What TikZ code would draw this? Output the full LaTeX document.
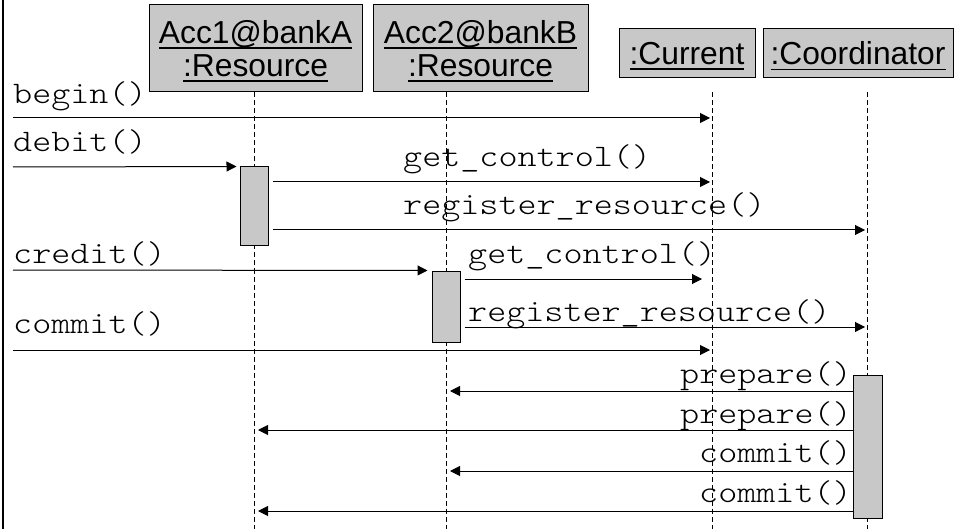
\documentclass[tikz,border=0pt]{standalone}
\usepackage{fontspec}
\setmainfont{Liberation Sans}
\setmonofont{Latin Modern Mono Light}[FakeStretch=1.16]
\usetikzlibrary{arrows.meta}
\definecolor{boxgray}{RGB}{200,200,200}
\newsavebox\myulbox
\newcommand\myul[1]{\sbox\myulbox{#1}\rlap{\raisebox{-5.5pt}[0pt][0pt]{\rule{\wd\myulbox}{1.5pt}}}\usebox\myulbox}
\tikzset{
  obj/.style={draw=black, line width=1pt, fill=boxgray, align=center, inner sep=0pt,
    font=\fontsize{31.8}{33}\selectfont},
  life/.style={line width=1pt, dash pattern=on 5pt off 3pt},
  msg/.style={line width=1pt, -{Triangle[length=10pt,width=10pt]}},
  lbl/.style={inner sep=0pt, font=\ttfamily\fontsize{31.3}{33}\selectfont},
  actbar/.style={draw=black, line width=1pt, fill=boxgray, inner sep=0pt},
}
\begin{document}
\begin{tikzpicture}[x=1pt,y=-1pt]
\useasboundingbox (0,0) rectangle (955,529);
\fill[white] (0,0) rectangle (955,529);
\draw[line width=2.5pt] (3,0) -- (3,529);

% objects
\node[obj, minimum width=213pt, minimum height=87pt] (acc1) at (255.5,48.5) {\myul{Acc1@bankA}\\\myul{:Resource}};
\node[obj, minimum width=215pt, minimum height=87pt] (acc2) at (480.5,48.5) {\myul{Acc2@bankB}\\\myul{:Resource}};
\node[obj, minimum width=136pt, minimum height=49pt] (cur) at (687,53.5) {\myul{:Current}};
\node[obj, minimum width=190pt, minimum height=49pt] (coord) at (858,53.5) {\myul{:Coordinator}};

% lifelines
\coordinate (l1) at (254,529);
\coordinate (l2) at (446,529);
\coordinate (l3) at (712,529);
\coordinate (l4) at (867.5,529);
\draw[life] (acc1.south -| l1) -- (l1);
\draw[life] (acc1.south -| l2) -- (l2);
\draw[life] (acc1.south -| l3) -- (l3);
\draw[life] (acc1.south -| l4) -- (l4);

% activation bars
\node[actbar, minimum width=28pt, minimum height=79pt] (b1) at (254,206.5) {};
\node[actbar, minimum width=28pt, minimum height=71pt] (b2) at (446,306.5) {};
\node[actbar, minimum width=29pt, minimum height=143pt] (b3) at (867.5,446.5) {};

% message rows
\coordinate (r1) at (13,118);
\coordinate (r2) at (13,167);
\coordinate (r3) at (13,182);
\coordinate (r4) at (13,230);
\coordinate (r5) at (13,270);
\coordinate (r6) at (13,279);
\coordinate (r7) at (13,327);
\coordinate (r8) at (13,350);
\coordinate (r9) at (13,391);
\coordinate (r10) at (13,430);
\coordinate (r11) at (13,471);
\coordinate (r12) at (13,511);

\draw[msg, shorten >=2pt] (r1) -- (r1 -| l3);
\draw[msg, shorten >=3pt] (r2) -- (b1.north west);
\draw[msg, shorten <=4pt, shorten >=2pt] (r3 -| b1.east) -- (r3 -| l3);
\draw[msg, shorten <=4pt, shorten >=2.5pt] (r4 -| b1.east) -- (r4 -| l4);
\draw[msg, shorten >=4pt] (r5) -- (b2.north west);
\draw[msg, shorten <=4pt, shorten >=10pt] (r6 -| b2.east) -- (r6 -| l3);
\draw[msg, shorten <=4pt, shorten >=2.5pt] (r7 -| b2.east) -- (r7 -| l4);
\draw[msg, shorten >=2pt] (r8) -- (r8 -| l3);
\draw[msg, shorten >=4pt] (r9 -| b3.west) -- (r9 -| l2);
\draw[msg, shorten >=4pt] (r10 -| b3.west) -- (r10 -| l1);
\draw[msg, shorten >=4pt] (r11 -| b3.west) -- (r11 -| l2);
\draw[msg, shorten >=4pt] (r12 -| b3.west) -- (r12 -| l1);

% labels
\node[lbl, anchor=base west] (t1) at (13,104) {begin()};
\node[lbl, anchor=base west] (t2) at (13,152) {debit()};
\node[lbl, anchor=base west] (t3) at (403,167) {get\_control()};
\node[lbl, anchor=base west] (t4) at (403,215) {register\_resource()};
\node[lbl, anchor=base west] (t5) at (13,263) {credit()};
\node[lbl, anchor=base west] (t6) at (468,263) {get\_control()};
\node[lbl, anchor=base west] (t7) at (468,321) {register\_resource()};
\node[lbl, anchor=base west] (t8) at (13,333) {commit()};
\node[lbl, anchor=base west] (t9) at (680,383) {prepare()};
\node[lbl, anchor=base west] (t10) at (680,423) {prepare()};
\node[lbl, anchor=base west] (t11) at (699,462) {commit()};
\node[lbl, anchor=base west] (t12) at (699,502) {commit()};
\end{tikzpicture}
\end{document}
